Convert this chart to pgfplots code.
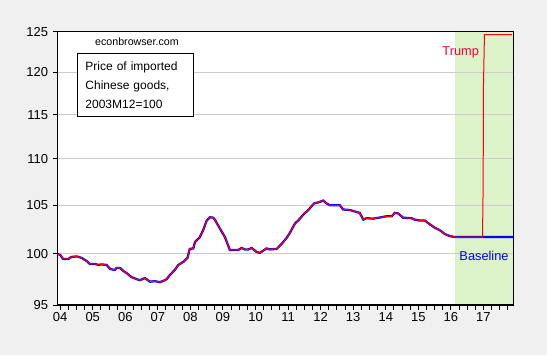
\documentclass[border=0pt]{standalone}
\usepackage{fontspec}
\setmainfont{Liberation Sans}
\usepackage{pgfplots}
\pgfplotsset{compat=1.18}
\usepackage{pgfplotstable}
\definecolor{bggray}{RGB}{240,240,240}
\definecolor{shade}{RGB}{220,242,200}
\definecolor{gridgray}{RGB}{204,204,204}
\definecolor{trumpred}{RGB}{240,0,60}
\definecolor{baseblue}{RGB}{0,0,255}

\pgfplotstableread{
x y
2003.917 100.0
2004.00 99.9
2004.09 99.5
2004.25 99.5
2004.35 99.7
2004.51 99.75
2004.66 99.6
2004.81 99.3
2004.91 99.0
2005.07 99.0
2005.17 98.9
2005.27 98.95
2005.43 98.9
2005.53 98.5
2005.68 98.4
2005.73 98.6
2005.84 98.6
2005.94 98.3
2006.04 98.1
2006.19 97.7
2006.35 97.5
2006.45 97.4
2006.60 97.6
2006.76 97.25
2006.91 97.3
2007.06 97.2
2007.22 97.4
2007.27 97.5
2007.37 97.9
2007.52 98.4
2007.63 98.9
2007.78 99.2
2007.91 99.6
2007.98 100.5
2008.09 100.55
2008.14 101.2
2008.29 101.7
2008.39 102.4
2008.50 103.4
2008.60 103.75
2008.70 103.7
2008.75 103.5
2008.91 102.55
2009.06 101.7
2009.21 100.4
2009.47 100.4
2009.57 100.6
2009.67 100.45
2009.78 100.45
2009.88 100.6
2010.03 100.2
2010.13 100.1
2010.34 100.55
2010.44 100.45
2010.65 100.5
2010.80 101.0
2010.95 101.6
2011.05 102.1
2011.21 103.1
2011.31 103.4
2011.46 104.0
2011.62 104.5
2011.80 105.2
2011.92 105.3
2012.08 105.5
2012.18 105.2
2012.28 105.0
2012.59 105.0
2012.69 104.56
2012.90 104.5
2013.05 104.35
2013.20 104.2
2013.31 103.5
2013.41 103.65
2013.61 103.6
2013.87 103.75
2014.02 103.85
2014.18 103.85
2014.28 104.2
2014.38 104.15
2014.53 103.7
2014.79 103.65
2014.89 103.5
2015.05 103.4
2015.20 103.4
2015.36 103.0
2015.51 102.65
2015.66 102.4
2015.82 102.0
2015.97 101.8
2016.13 101.7
2017.917 101.7
}\baseline

\pgfplotstableread{
x y
2003.917 100.0
2004.00 99.9
2004.09 99.5
2004.25 99.5
2004.35 99.7
2004.51 99.75
2004.66 99.6
2004.81 99.3
2004.91 99.0
2005.07 99.0
2005.17 98.9
2005.27 98.95
2005.43 98.9
2005.53 98.5
2005.68 98.4
2005.73 98.6
2005.84 98.6
2005.94 98.3
2006.04 98.1
2006.19 97.7
2006.35 97.5
2006.45 97.4
2006.60 97.6
2006.76 97.25
2006.91 97.3
2007.06 97.2
2007.22 97.4
2007.27 97.5
2007.37 97.9
2007.52 98.4
2007.63 98.9
2007.78 99.2
2007.91 99.6
2007.98 100.5
2008.09 100.55
2008.14 101.2
2008.29 101.7
2008.39 102.4
2008.50 103.4
2008.60 103.75
2008.70 103.7
2008.75 103.5
2008.91 102.55
2009.06 101.7
2009.21 100.4
2009.47 100.4
2009.57 100.6
2009.67 100.45
2009.78 100.45
2009.88 100.6
2010.03 100.2
2010.13 100.1
2010.34 100.55
2010.44 100.45
2010.65 100.5
2010.80 101.0
2010.95 101.6
2011.05 102.1
2011.21 103.1
2011.31 103.4
2011.46 104.0
2011.62 104.5
2011.80 105.2
2011.92 105.3
2012.08 105.5
2012.18 105.2
2012.28 105.0
2012.59 105.0
2012.69 104.56
2012.90 104.5
2013.05 104.35
2013.20 104.2
2013.31 103.5
2013.41 103.65
2013.61 103.6
2013.87 103.75
2014.02 103.85
2014.18 103.85
2014.28 104.2
2014.38 104.15
2014.53 103.7
2014.79 103.65
2014.89 103.5
2015.05 103.4
2015.20 103.4
2015.36 103.0
2015.51 102.65
2015.66 102.4
2015.82 102.0
2015.97 101.8
2016.13 101.7
2016.97 101.7
2016.99 107.0
2017.00 118.4
2017.03 124.6
2017.88 124.6
}\trump

\begin{document}
\begin{tikzpicture}
\pgfplotsset{set layers}
\begin{pgfonlayer}{axis background}
\fill[bggray] (-43.1pt,-37.5pt) rectangle (367.15pt,228.75pt);
\end{pgfonlayer}
\begin{axis}[
  at={(0pt,0pt)}, anchor=south west,
  scale only axis, width=341.9pt, height=205.1pt,
  xmin=2003.917, xmax=2017.917,
  ymode=log, ymin=95, ymax=125,
  ytick={95,100,105,110,115,120,125},
  yticklabels={95,100,105,110,115,120,125},
  xtick={2004,2005,2006,2007,2008,2009,2010,2011,2012,2013,2014,2015,2016,2017},
  xticklabels={04,05,06,07,08,09,10,11,12,13,14,15,16,17},
  minor xtick={2004.25,2004.5,...,2017.75},
  yminorticks=false,
  tick align=outside,
  xtick pos=left, ytick pos=left,
  major tick length=3.5pt, minor tick length=3.5pt,
  ymajorgrids,
  grid style={gridgray, line width=0.75pt},
  axis line style={line width=0.8pt},
  tick style={black, line width=0.75pt},
  axis background/.style={fill=white},
  tick label style={font=\fontsize{9.75}{11}\selectfont},
  xticklabel style={yshift=1.5pt},
  /pgf/number format/assume math mode=true,
]
\addplot[draw=none, fill=shade, on layer=axis background] coordinates {(2016.13,95) (2017.917,95) (2017.917,125) (2016.13,125)} -- cycle;
\addplot[baseblue, line width=1.7pt] table[x=x,y=y] {\baseline};
\addplot[red, line width=0.75pt] table[x=x,y=y] {\trump};
\node[font=\fontsize{8}{9}\selectfont] at (rel axis cs:0.1744,0.9616) {econbrowser.com};
\node[draw, line width=0.75pt, fill=white, anchor=north west, inner xsep=5.8pt, inner ysep=5.9pt, align=left, text width=75pt, font=\fontsize{9}{14.25}\selectfont] at (rel axis cs:0.0434,0.920) {Price of imported\\Chinese goods,\\2003M12=100};
\node[text=trumpred, font=\fontsize{9.6}{11}\selectfont] at (rel axis cs:0.8846,0.924) {Trump};
\node[text=baseblue, font=\fontsize{9.6}{11}\selectfont] at (rel axis cs:0.9357,0.180) {Baseline};
\end{axis}
\end{tikzpicture}
\end{document}
